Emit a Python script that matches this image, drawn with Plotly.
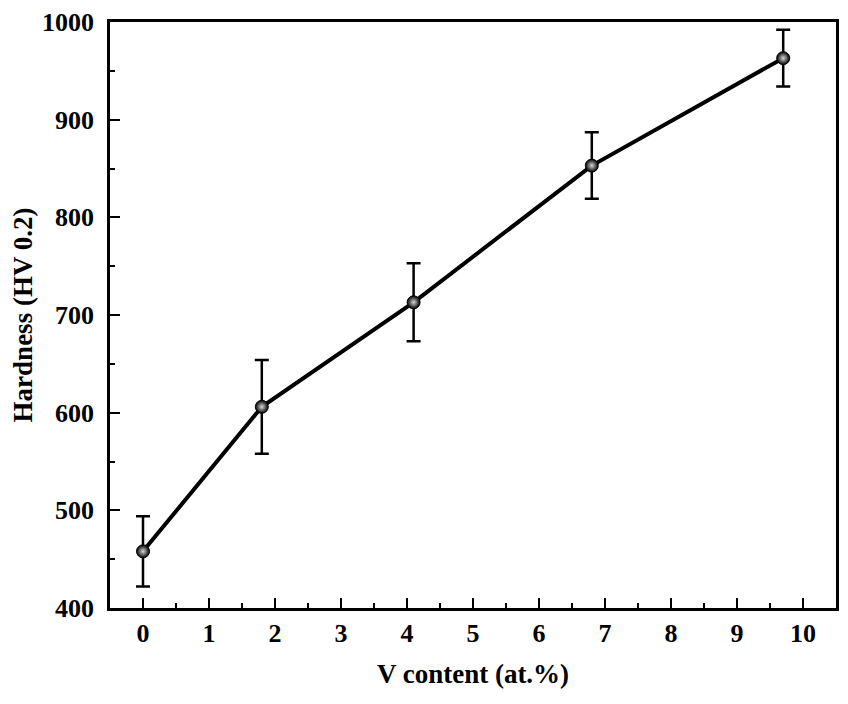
import plotly.graph_objects as go

# data
v_content = [0, 1.8, 4.1, 6.8, 9.7]
hardness = [458, 606, 713, 853, 963]
hardness_err = [36, 48, 40, 34, 29]

x_ticks = list(range(0, 11))
y_ticks = [400, 500, 600, 700, 800, 900, 1000]

font_main = "Liberation Serif"

fig = go.Figure()

fig.add_trace(go.Scatter(
    x=v_content,
    y=hardness,
    mode="lines+markers",
    line=dict(color="black", width=4),
    marker=dict(size=13, color="black",
                gradient=dict(type="radial", color="#d8d8d8"),
                line=dict(color="black", width=1)),
    error_y=dict(type="data", array=hardness_err, visible=True,
                 color="black", thickness=2.5, width=7),
    showlegend=False,
))

axis_common = dict(
    showline=True, linecolor="black", linewidth=2.5, mirror=True,
    ticks="inside", ticklen=10, tickwidth=2, tickcolor="black",
    showgrid=False, zeroline=False, automargin=False,
    tickfont=dict(family=font_main, size=26, color="black"),
)

fig.update_xaxes(
    range=[-0.5, 10.5],
    tickvals=x_ticks,
    ticktext=[f"<b>{t}</b>" for t in x_ticks],
    minor=dict(ticks="inside", ticklen=5, tickwidth=2, tickcolor="black", dtick=0.5, tick0=0.5),
    title=dict(text="<b>V content (at.%)</b>", font=dict(family=font_main, size=27, color="black"), standoff=18),
    **axis_common,
)
fig.update_yaxes(
    range=[400, 1000],
    tickvals=y_ticks,
    ticktext=[f"<b>{t}</b>" for t in y_ticks],
    ticklabelstandoff=8,
    minor=dict(ticks="inside", ticklen=5, tickwidth=2, tickcolor="black", dtick=50, tick0=450),
    title=dict(text="<b>Hardness (HV 0.2)</b>", font=dict(family=font_main, size=27, color="black"), standoff=6),
    **axis_common,
)

fig.update_layout(
    width=848, height=704,
    margin=dict(l=102, r=20, t=14, b=104),
    paper_bgcolor="white", plot_bgcolor="white",
    font=dict(family=font_main, color="black"),
)

fig.write_html("out.html")
